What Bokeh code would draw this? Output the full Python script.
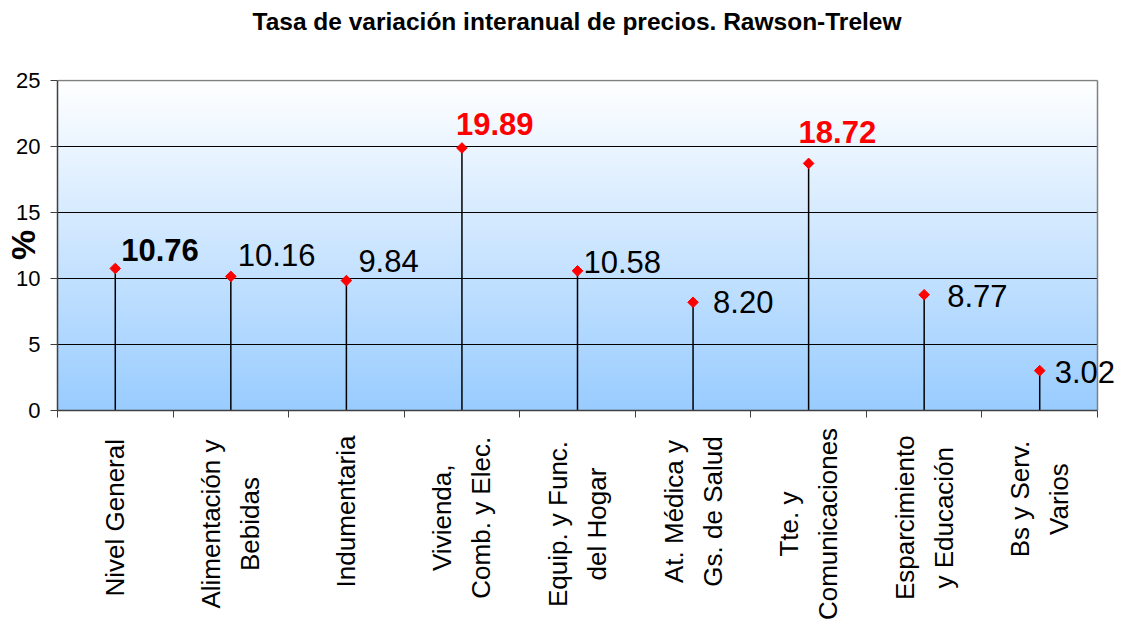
import numpy as np
from bokeh.plotting import figure
from bokeh.layouts import column
from bokeh.models import (Range1d, FixedTicker, ColumnDataSource, LabelSet, Label, Title,
                          CustomJSTickFormatter)
from bokeh.core.properties import value, field
from bokeh.embed import file_html
from bokeh.resources import INLINE

# ---------------- data ----------------
categories = [
    "Nivel General",
    "Alimentación y\nBebidas",
    "Indumentaria",
    "Vivienda,\nComb. y Elec.",
    "Equip. y Func.\ndel Hogar",
    "At. Médica y\nGs. de Salud",
    "Tte. y\nComunicaciones",
    "Esparcimiento\ny Educación",
    "Bs y Serv.\nVarios",
]
values = [10.76, 10.16, 9.84, 19.89, 10.58, 8.20, 18.72, 8.77, 3.02]
label_colors = ["black", "black", "black", "red", "black", "black", "red", "black", "black"]
label_styles = ["bold", "normal", "normal", "bold", "normal", "normal", "bold", "normal", "normal"]
y_ticks = [0, 5, 10, 15, 20, 25]
title_text = "Tasa de variación interanual de precios. Rawson-Trelew"
y_label = "%"

# ---------------- layout (pixels) ----------------
label_dx = [6, 7, 12, -6, 6, 20, -10, 23, 15]
label_dy = [7, 10, 9, 13, -2, -11, 20, -12, -12]

FONT = "Liberation Sans"
W, H = 1124, 627
B_LEFT = 57
PLOT_TOP = 80            # top of the drawn plot area
PLOT_BOTTOM = 410        # x axis position
PLOT_W = 1040            # width of the drawn plot area
H1 = 425                 # height of the chart figure; the category labels go below it
H2 = H - H1
N = len(categories)
Y_MAX = 25
px_per_y = (PLOT_BOTTOM - PLOT_TOP) / Y_MAX
Y_TOP = Y_MAX + 1 / px_per_y                # one spare pixel so the top border is not clipped
X_END = N * (W - B_LEFT) / PLOT_W           # frame reaches the canvas right edge (label 3.02)

xs = [i + 0.5 for i in range(N)]
bounds = list(range(N + 1))

p = figure(width=W, height=H1, x_range=Range1d(0, X_END), y_range=Range1d(0, Y_TOP),
           output_backend="svg", toolbar_location=None,
           min_border_left=B_LEFT, min_border_right=0,
           min_border_top=PLOT_TOP - 1, min_border_bottom=H1 - PLOT_BOTTOM,
           background_fill_color="white", border_fill_color="white",
           outline_line_color=None)

# title: a small spacer panel next to the plot, then the title above it
p.add_layout(Title(text=" ", text_font_size="1px", standoff=42), "above")
p.add_layout(Title(text=title_text, align="left", offset=195, standoff=0,
                   text_font=FONT, text_font_size="24.5px", text_font_style="bold",
                   text_color="black"), "above")

# gradient background (white at top -> light blue at bottom)
nrows = 330
t = np.linspace(0.0, 1.0, nrows)[:, None]
c_bot = np.array([153, 204, 255], dtype=float)
c_top = np.array([255, 255, 255], dtype=float)
cols = (c_bot * (1 - t) + c_top * t).round().astype(np.uint8)
img = np.empty((nrows, 1), dtype=np.uint32)
view = img.view(dtype=np.uint8).reshape((nrows, 1, 4))
view[:, 0, 0] = cols[:, 0]
view[:, 0, 1] = cols[:, 1]
view[:, 0, 2] = cols[:, 2]
view[:, 0, 3] = 255
p.image_rgba(image=[img], x=0, y=0, dw=N, dh=Y_MAX, level="image")

# grid lines (limited to the plot area) and plot border
p.xgrid.grid_line_color = None
p.ygrid.grid_line_color = None
inner = y_ticks[1:-1]
p.segment(x0=[0] * len(inner), y0=inner, x1=[N] * len(inner), y1=inner,
          line_color="black", line_width=1)
p.segment(x0=[0], y0=[Y_MAX], x1=[N], y1=[Y_MAX], line_color="#808080", line_width=1.5)
p.segment(x0=[N], y0=[0], x1=[N], y1=[Y_MAX], line_color="#808080", line_width=1.5)

# y axis
p.yaxis.ticker = FixedTicker(ticks=y_ticks)
p.yaxis.bounds = (0, Y_MAX)
p.yaxis.major_label_text_font = FONT
p.yaxis.major_label_text_font_size = "22px"
p.yaxis.major_label_text_color = "black"
p.yaxis.major_tick_out = 7
p.yaxis.major_tick_in = 0
p.yaxis.minor_tick_line_color = None
p.yaxis.axis_line_color = "#404040"
p.yaxis.axis_line_width = 1.5
p.yaxis.major_tick_line_color = "#404040"
p.yaxis.major_label_standoff = 10
p.yaxis.axis_label = y_label
p.yaxis.axis_label_text_font = FONT
p.yaxis.axis_label_text_font_size = "34px"
p.yaxis.axis_label_text_font_style = "bold"
p.yaxis.axis_label_text_color = "black"
p.yaxis.axis_label_standoff = -29

# x axis: tick marks at category boundaries; category names drawn below
p.xaxis.ticker = FixedTicker(ticks=xs, minor_ticks=bounds)
p.xaxis.formatter = CustomJSTickFormatter(code="return ''")
p.xaxis.bounds = (0, N)
p.xaxis.major_tick_out = 0
p.xaxis.major_tick_in = 0
p.xaxis.major_tick_line_color = None
p.xaxis.major_label_standoff = 0
p.xaxis.major_label_text_font_size = "1px"
p.xaxis.minor_tick_out = 7
p.xaxis.minor_tick_in = 0
p.xaxis.minor_tick_line_color = "#404040"
p.xaxis.axis_line_color = "#404040"
p.xaxis.axis_line_width = 1.5

# drop lines and markers
p.segment(x0=xs, y0=0, x1=xs, y1=values, line_color="black", line_width=1.5)
p.scatter(xs, values, marker="square", angle=np.pi / 4, size=7.5,
          fill_color="red", line_color="red")

# value labels
src = ColumnDataSource(dict(
    x=xs, y=values, txt=[f"{v:.2f}" for v in values],
    dx=label_dx, dy=label_dy, lbl_color=label_colors, lbl_style=label_styles))
labels = LabelSet(x="x", y="y", text="txt", source=src,
                  x_offset=field("dx"), y_offset=field("dy"),
                  text_font=value(FONT), text_font_size=value("31px"),
                  text_color=field("lbl_color"), text_font_style=field("lbl_style"),
                  text_align="left", text_baseline="alphabetic")
p.add_layout(labels)

# category labels: a strip below the chart sharing its x scale
p2 = figure(width=W, height=H2, x_range=p.x_range, y_range=Range1d(0, H2),
            output_backend="svg", toolbar_location=None,
            x_axis_location=None, y_axis_location=None,
            min_border_left=B_LEFT, min_border_right=0,
            min_border_top=0, min_border_bottom=0,
            background_fill_color="white", border_fill_color="white",
            outline_line_color=None)
p2.grid.grid_line_color = None

CHAR_W = 12.5
LABEL_TOP = 436          # page y where the longest line of each label ends
for i, cat in enumerate(categories):
    longest = max(len(s) for s in cat.split("\n"))
    centre_page = LABEL_TOP + longest * CHAR_W / 2.0
    p2.add_layout(Label(x=xs[i], y=H - centre_page, text=cat, angle=np.pi / 2,
                        text_align="center", text_baseline="middle",
                        text_font=FONT, text_font_size="26px",
                        text_line_height=1.3, text_color="black"))

layout = column(p, p2, spacing=0)
open("out.html", "w").write(file_html(layout, INLINE))
